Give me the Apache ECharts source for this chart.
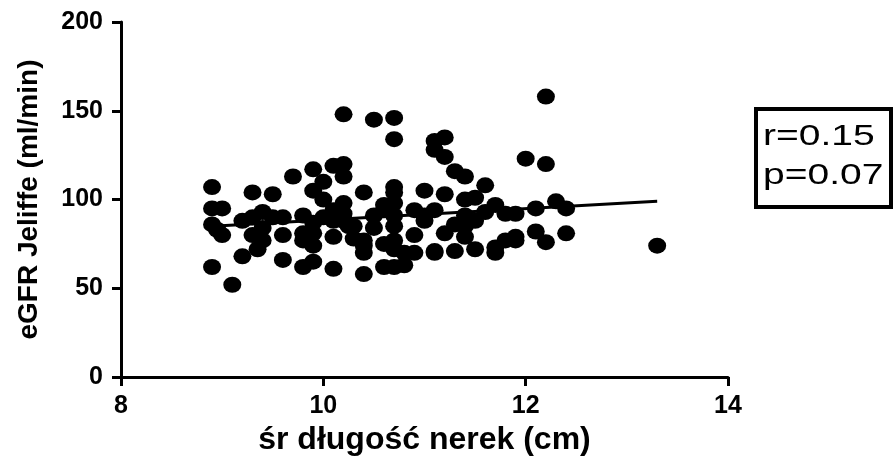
<!DOCTYPE html>
<html>
<head>
<meta charset="utf-8">
<script src="https://cdn.jsdelivr.net/npm/echarts@6/dist/echarts.min.js"></script>
<style>html,body{margin:0;padding:0;background:#fff;}#c{width:893px;height:461px;}</style>
</head>
<body>
<div id="c"></div>
<script>
// Kidney length (cm) vs eGFR Jeliffe (ml/min)
const xVals = [8.9, 8.9, 9.0, 8.9, 8.95, 9.0, 8.9, 9.1, 9.2, 9.2,
  9.3, 9.3, 9.3, 9.35, 9.4, 9.4, 9.4, 9.5, 9.5, 9.6,
  9.6, 9.6, 9.7, 9.8, 9.8, 9.8, 9.9, 9.9, 9.9, 9.9,
  9.9, 9.9, 10.0, 10.0, 10.1, 10.2, 10.1, 10.1, 10.1, 10.2,
  10.2, 10.2, 10.2, 10.2, 10.25, 10.3, 10.3, 10.4, 10.4, 10.4,
  10.4, 10.4, 10.5, 10.5, 10.5, 10.6, 10.6, 10.6, 10.7, 10.7,
  10.7, 10.7, 10.7, 10.7, 10.7, 10.7, 10.7, 10.7, 10.8, 10.8,
  10.9, 10.9, 10.9, 11.0, 11.0, 11.0, 11.1, 11.1, 11.1, 11.1,
  11.1, 11.2, 11.2, 11.2, 11.2, 11.3, 11.3, 11.3, 11.4, 11.4,
  11.4, 11.4, 11.5, 11.5, 11.5, 11.6, 11.6, 11.7, 11.7, 11.7,
  11.8, 11.8, 11.9, 11.9, 12.0, 12.1, 12.1, 12.2, 12.2, 12.2,
  12.3, 12.4, 12.4, 13.3, 10.0, 10.1, 9.8, 10.6, 11.4, 11.9];
const yVals = [107, 95, 95, 86, 83, 80, 62, 52, 68, 88,
  104, 90, 80, 72, 93, 84, 77, 103, 90, 90,
  80, 66, 113, 81, 77, 62, 117, 105, 87, 81,
  74, 65, 110, 100, 119, 120, 94, 79, 61, 148,
  113, 98, 92, 88, 85, 85, 78, 104, 77, 74,
  70, 58, 145, 91, 84, 94, 75, 62, 146, 134,
  107, 104, 98, 91, 85, 77, 72, 62, 63, 70,
  94, 80, 70, 105, 91, 88, 133, 128, 94, 70,
  71, 135, 124, 103, 81, 116, 86, 71, 113, 100,
  91, 79, 101, 88, 72, 108, 93, 97, 73, 70,
  92, 77, 92, 79, 123, 95, 82, 158, 120, 76,
  99, 95, 81, 74, 90, 88, 91, 97, 85, 77];
// regression line end points
const lineX = [8.9, 13.3];
const lineY = [85, 99];
const xTicks = [8, 10, 12, 14];
const yTicks = [0, 50, 100, 150, 200];
const statText = ['r=0.15', 'p=0.07'];

const chart = echarts.init(document.getElementById('c'), null, {renderer: 'canvas'});
const fontFam = '"Liberation Sans", Arial, sans-serif';
const axisCommon = {
  axisLine: {show: true, lineStyle: {color: '#000', width: 3}},
  axisTick: {show: true, length: 9, lineStyle: {color: '#000', width: 3}},
  splitLine: {show: false},
};
chart.setOption({
  backgroundColor: '#fff',
  animation: false,
  grid: {left: 121, right: 165, top: 22, bottom: 83, containLabel: false},
  xAxis: Object.assign({
    type: 'value', min: xTicks[0], max: xTicks[xTicks.length - 1], interval: 2,
    name: 'śr długość nerek (cm)', nameLocation: 'middle', nameGap: 46,
    nameTextStyle: {fontFamily: fontFam, fontWeight: 'bold', fontSize: 32, color: '#000'},
    axisLabel: {fontFamily: fontFam, fontWeight: 'bold', fontSize: 25, color: '#000', margin: 17}
  }, axisCommon),
  yAxis: Object.assign({
    type: 'value', min: yTicks[0], max: yTicks[yTicks.length - 1], interval: 50,
    name: 'eGFR Jeliffe (ml/min)', nameLocation: 'middle', nameGap: 78,
    nameTextStyle: {fontFamily: fontFam, fontWeight: 'bold', fontSize: 28, color: '#000'},
    axisLabel: {fontFamily: fontFam, fontWeight: 'bold', fontSize: 25, color: '#000', margin: 18}
  }, axisCommon),
  series: [
    {
      type: 'line', data: lineX.map((x, i) => [x, lineY[i]]),
      symbol: 'none', lineStyle: {color: '#000', width: 3}, z: 1
    },
    {
      type: 'scatter', data: xVals.map((x, i) => [x, yVals[i]]),
      symbol: 'circle', symbolSize: [18, 16],
      itemStyle: {color: '#000', opacity: 1}, z: 2
    }
  ],
  graphic: [
    {
      type: 'group', left: 754, top: 107,
      children: [
        {type: 'rect', shape: {x: 0, y: 0, width: 135, height: 98},
         style: {fill: '#fff', stroke: '#000', lineWidth: 4}},
        {type: 'text', x: 7, y: 13, scaleX: 1.3,
         style: {text: statText[0], font: '30px ' + fontFam, fill: '#000'}},
        {type: 'text', x: 7, y: 52, scaleX: 1.3,
         style: {text: statText[1], font: '30px ' + fontFam, fill: '#000'}}
      ]
    }
  ]
});
</script>
</body>
</html>
